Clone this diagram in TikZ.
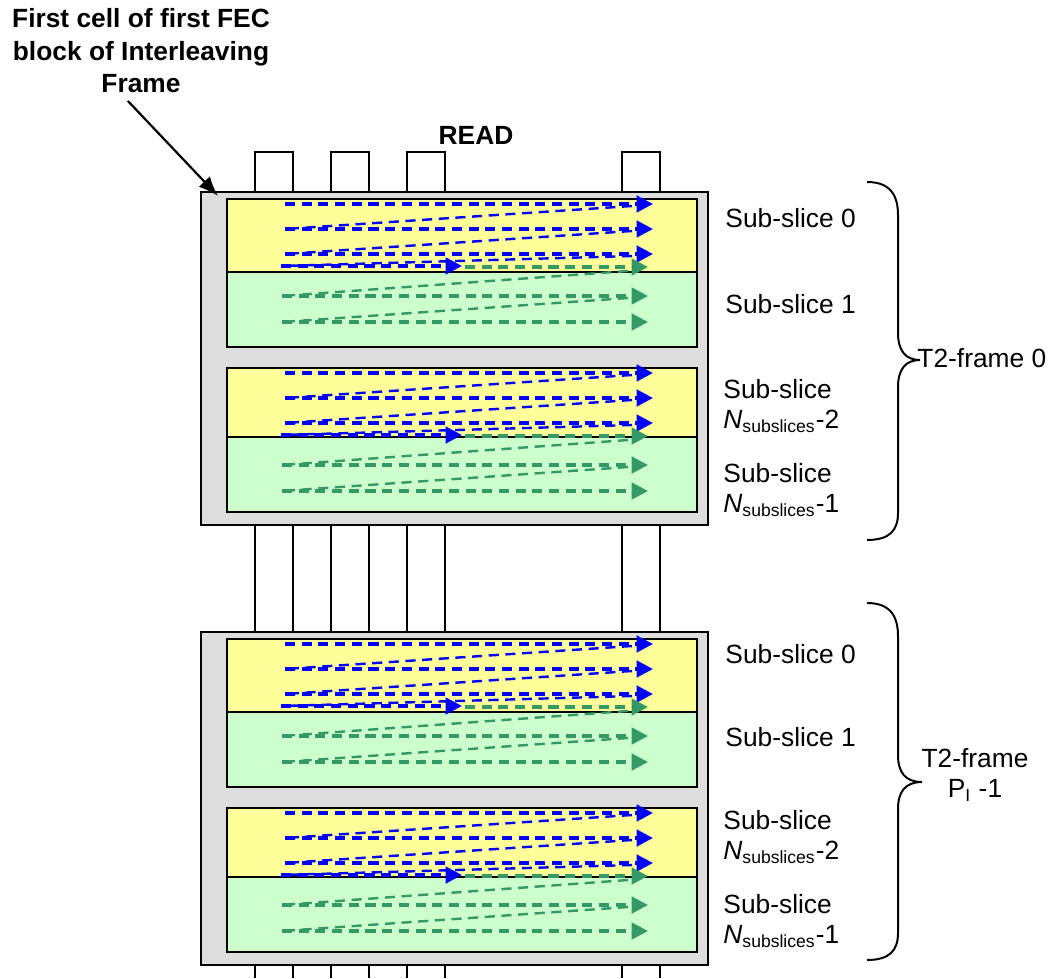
\documentclass[tikz,border=0pt]{standalone}
\usepackage{fontspec}
\setmainfont{Liberation Sans}
\usetikzlibrary{arrows.meta}
\definecolor{slyellow}{HTML}{FFFF99}
\definecolor{slgreen}{HTML}{CCFFCC}
\definecolor{framegray}{HTML}{DDDDDD}
\definecolor{readgreen}{HTML}{339966}
\tikzset{
  lbl/.style={font=\fontsize{12}{13.8}\selectfont, align=left, inner sep=0pt},
  rowline/.style={dash pattern=on 4.6pt off 3pt, line width=1.6pt, -{Triangle[length=7.5pt,width=7.5pt]}},
  backline/.style={dash pattern=on 4.6pt off 3pt, line width=1.1pt},
}
\begin{document}
\begin{tikzpicture}[x=0.016cm, y=-0.016cm]
    \useasboundingbox (0,0) rectangle (1059,978);

    % 1. Cot doc phia tren (READ) va giua hai khung
    \foreach \x in {255,331,407,622}
        \draw[line width=0.7pt] (\x,192) -- (\x,152) -- (\x+38,152) -- (\x+38,192);
    \foreach \x in {255,293,331,369,407,445,622,660} {
        \draw[line width=0.7pt] (\x,525) -- (\x,632);
        \draw[line width=0.7pt] (\x,965) -- (\x,978);
    }

    % 2. Hai khung T2 (khung xam, moi khung hai cap sub-slice)
    \foreach \T in {192,632} {
        \draw[line width=1pt, fill=framegray] (201,\T) rectangle (708,\T+333);
        \foreach \Y/\D/\G in {7/80/155, 176/245/320} {
            \fill[slyellow] (227,\T+\Y) rectangle (697,\T+\D);
            \fill[slgreen] (227,\T+\D) rectangle (697,\T+\G);
            \draw[line width=1pt] (227,\T+\Y) rectangle (697,\T+\G);
            \draw[line width=1.3pt] (227,\T+\D) -- (697,\T+\D);
            % duong doc ziczac: xanh duong roi xanh la
            \pgfmathsetmacro{\a}{\T+\Y}
            \draw[rowline, blue] (285,\a+5) -- (653,\a+5);
            \draw[backline, blue] (632,\a+7) -- (285,\a+30);
            \draw[rowline, blue] (285,\a+30) -- (653,\a+30);
            \draw[backline, blue] (632,\a+32) -- (285,\a+55);
            \draw[rowline, blue] (285,\a+55) -- (653,\a+55);
            \draw[backline, blue] (632,\a+57) -- (281,\a+67);
            \draw[rowline, blue] (281,\a+67) -- (462,\a+67);
            \draw[rowline, readgreen] (465,\a+68) -- (648,\a+68);
            \draw[backline, readgreen] (628,\a+72) -- (282,\a+97);
            \draw[rowline, readgreen] (282,\a+97) -- (648,\a+97);
            \draw[backline, readgreen] (628,\a+99) -- (282,\a+123);
            \draw[rowline, readgreen] (282,\a+123) -- (648,\a+123);
        }
    }

    % 3. Chu thich o tren
    \node[font=\bfseries\fontsize{12}{14}\selectfont] (read) at (476,135) {READ};
    \node[font=\bfseries\fontsize{12}{14.8}\selectfont, align=center] (note) at (141,51)
        {First cell of first FEC\\block of Interleaving\\Frame};
    \coordinate (corner) at (218,196);
    \draw[line width=1pt, -{Latex[length=9pt,width=7pt]}] ([xshift=-6pt]note.south) -- (corner);

    % 4. Nhan sub-slice, khung 0
    \node[lbl, anchor=west] (ssa0) at (725,218) {Sub-slice 0};
    \node[lbl, anchor=west] (ssa1) at (725,304) {Sub-slice 1};
    \node[lbl, anchor=west] (ssa2) at (723,406) {Sub-slice\\\textit{N}\textsubscript{subslices}-2};
    \node[lbl, anchor=west] (ssa3) at (723,490) {Sub-slice\\\textit{N}\textsubscript{subslices}-1};

    % Nhan sub-slice, khung P_I - 1
    \node[lbl, anchor=west] (ssb0) at (725,654) {Sub-slice 0};
    \node[lbl, anchor=west] (ssb1) at (725,737) {Sub-slice 1};
    \node[lbl, anchor=west] (ssb2) at (723,837) {Sub-slice\\\textit{N}\textsubscript{subslices}-2};
    \node[lbl, anchor=west] (ssb3) at (723,921) {Sub-slice\\\textit{N}\textsubscript{subslices}-1};

    % 5. Ngoac nhon va ten khung
    \draw[line width=0.9pt] (867,182) .. controls (890,182) and (898,195) .. (898,215)
        -- (898,333) .. controls (898,350) and (905,360) .. (920,360)
        .. controls (905,360) and (898,370) .. (898,387)
        -- (898,513) .. controls (898,530) and (890,540) .. (867,540);
    \node[lbl, anchor=west] (tfa) at (917,358) {T2-frame 0};

    \draw[line width=0.9pt] (867,603) .. controls (890,603) and (898,616) .. (898,636)
        -- (898,755) .. controls (898,772) and (905,782) .. (922,782)
        .. controls (905,782) and (898,792) .. (898,809)
        -- (898,933) .. controls (898,950) and (890,960) .. (867,960);
    \node[lbl, align=center] (tfb) at (975,775) {T2-frame\\P\textsubscript{I} -1};

\end{tikzpicture}
\end{document}
